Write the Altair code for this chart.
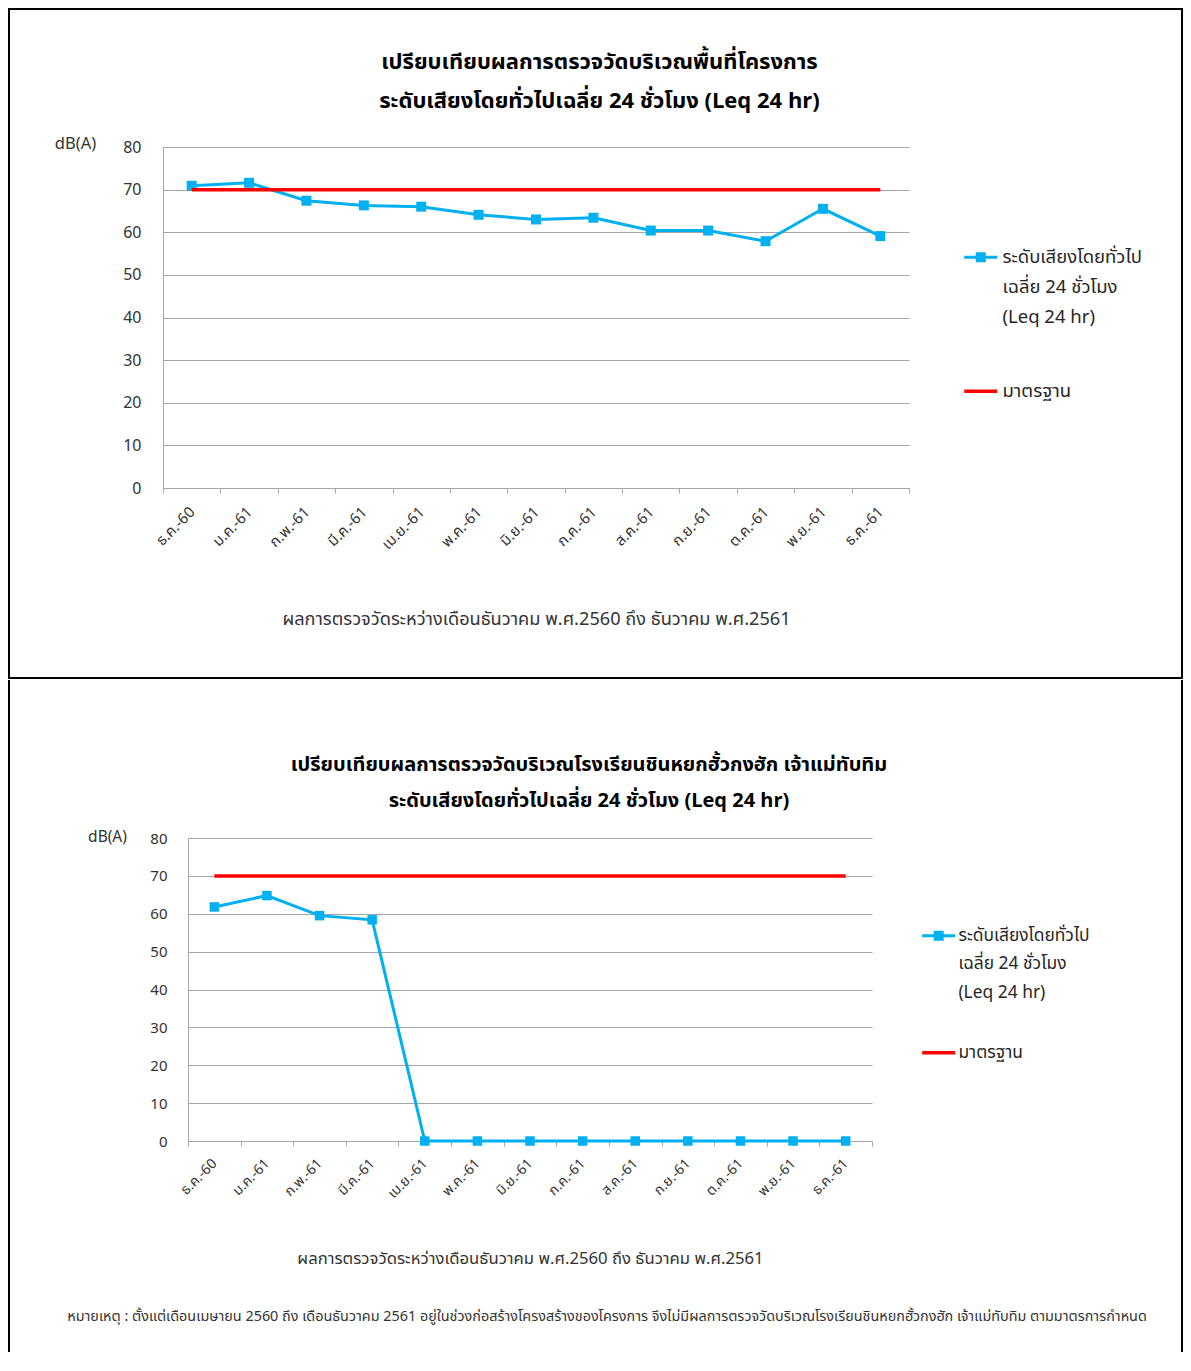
import altair as alt
import pandas as pd

# ---------------- data ----------------
MONTHS = ["ธ.ค.-60", "ม.ค.-61", "ก.พ.-61", "มี.ค.-61", "เม.ย.-61", "พ.ค.-61", "มิ.ย.-61",
          "ก.ค.-61", "ส.ค.-61", "ก.ย.-61", "ต.ค.-61", "พ.ย.-61", "ธ.ค.-61"]
PROJECT_LEQ = [70.9, 71.6, 67.4, 66.3, 66.0, 64.1, 63.0, 63.4, 60.4, 60.4, 57.9, 65.5, 59.1]
SCHOOL_LEQ = [61.8, 64.8, 59.5, 58.4, 0, 0, 0, 0, 0, 0, 0, 0, 0]
STANDARD_LEQ = [70, 70, 70, 70, 70, 70, 70, 70, 70, 70, 70, 70, 70]
Y_TICKS = [0, 10, 20, 30, 40, 50, 60, 70, 80]

LEQ_LEGEND_LINES = ["ระดับเสียงโดยทั่วไป", "เฉลี่ย 24 ชั่วโมง", "(Leq 24 hr)"]
STANDARD_NAME = "มาตรฐาน"
TOP_TITLE = ["เปรียบเทียบผลการตรวจวัดบริเวณพื้นที่โครงการ",
             "ระดับเสียงโดยทั่วไปเฉลี่ย 24 ชั่วโมง (Leq 24 hr)"]
BOTTOM_TITLE = ["เปรียบเทียบผลการตรวจวัดบริเวณโรงเรียนชินหยกฮั้วกงฮัก  เจ้าแม่ทับทิม",
                "ระดับเสียงโดยทั่วไปเฉลี่ย 24 ชั่วโมง (Leq 24 hr)"]
X_TITLE = "ผลการตรวจวัดระหว่างเดือนธันวาคม พ.ศ.2560 ถึง ธันวาคม พ.ศ.2561"
Y_TITLE = "dB(A)"
FOOTNOTE = ("หมายเหตุ :  ตั้งแต่เดือนเมษายน 2560 ถึง เดือนธันวาคม 2561 อยู่ในช่วงก่อสร้างโครงสร้างของโครงการ  "
            "จึงไม่มีผลการตรวจวัดบริเวณโรงเรียนชินหยกฮั้วกงฮัก เจ้าแม่ทับทิม ตามมาตรการกำหนด")

# ---------------- styles ----------------
FONT = "Tahoma, 'Noto Sans Thai', 'Noto Sans', 'DejaVu Sans', sans-serif"
BLUE = "#00B0F0"
RED = "#FF0000"
GRID = "#A6A6A6"
TXT = "#333333"
LEQ_SYMBOL = "M-3.3,-0.3H3.3V0.3H-3.3Z M-1,-1H1V1H-1Z"
STD_SYMBOL = "M-3.3,0H3.3"

# both panels share the same view origin; the lower plot is shifted right via its x range
TOP_GEOM = dict(w=746, x0=0, h=341, title=TOP_TITLE, tsize=22, tpad=17, toff=-105, tdx=4,
                xlab=15, xpad=16, xtitle=18.2, xtitleY=131, ylab=16, ypad=22,
                ytX=-88, ytY=-4, ytsize=16.5,
                msize=100, legX=808.5, legY=101, legRow=11, legLab=18.5, legOff=12.5, redY=235)
BOT_GEOM = dict(w=709, x0=25, h=303, title=BOTTOM_TITLE, tsize=20, tpad=16, toff=-132, tdx=-6.5,
                xlab=14, xpad=15, xtitle=16.7, xtitleY=117, ylab=15, ypad=21,
                ytX=-81, ytY=-2, ytsize=15.5,
                msize=90, legX=767, legY=89, legRow=9.6, legLab=17.4, legOff=11, redY=206)


def panel(values, g, frame_layers, extra_layers=()):
    df = pd.DataFrame({"month": MONTHS, "leq": values, "std": STANDARD_LEQ,
                       "series": LEQ_LEGEND_LINES[0], "std_series": STANDARD_NAME})
    x = alt.X("month:N", sort=MONTHS,
              scale=alt.Scale(type="band", paddingInner=0, paddingOuter=0,
                              range=[g["x0"], g["w"]]),
              axis=alt.Axis(title=X_TITLE, titleY=g["xtitleY"], titleBaseline="middle",
                            titleFontSize=g["xtitle"], titleFontWeight="normal", titleColor=TXT,
                            titleFont=FONT, labelFont=FONT, labelAngle=-45, labelAlign="right",
                            labelBaseline="middle", labelPadding=g["xpad"],
                            labelFontSize=g["xlab"], labelColor=TXT, tickBand="extent",
                            tickSize=5, tickColor=GRID, domainColor=GRID, grid=False))

    def y(field):
        return alt.Y(f"{field}:Q", scale=alt.Scale(domain=[0, 80], nice=False),
                     axis=alt.Axis(title=Y_TITLE, titleAngle=0, titleX=g["ytX"], titleY=g["ytY"],
                                   titleAlign="center", titleBaseline="middle",
                                   titleFontWeight="normal", titleFontSize=g["ytsize"],
                                   titleColor=TXT, titleFont=FONT, labelFont=FONT,
                                   values=Y_TICKS, grid=True, gridColor=GRID, gridWidth=1,
                                   domainColor=GRID, ticks=False, labelPadding=g["ypad"],
                                   labelFontSize=g["ylab"], labelColor=TXT,
                                   offset=-g["x0"]))

    base = alt.Chart(df)
    blue_line = base.mark_line(color=BLUE, strokeWidth=3).encode(x=x, y=y("leq"))
    blue_pts = base.mark_point(shape="square", filled=True, size=g["msize"], opacity=1).encode(
        x=x, y=y("leq"),
        color=alt.Color("series:N",
                        scale=alt.Scale(domain=LEQ_LEGEND_LINES,
                                        range=[BLUE, "transparent", "transparent"]),
                        legend=alt.Legend(orient="none", legendX=g["legX"], legendY=g["legY"],
                                          title=None, symbolType=LEQ_SYMBOL, symbolSize=100,
                                          symbolStrokeWidth=0, labelFont=FONT,
                                          labelFontSize=g["legLab"], labelColor="#262626",
                                          labelOffset=g["legOff"], rowPadding=g["legRow"],
                                          labelLimit=400)))
    red_line = base.mark_line(strokeWidth=3.5).encode(
        x=x, y=y("std"),
        stroke=alt.Stroke("std_series:N",
                          scale=alt.Scale(domain=[STANDARD_NAME], range=[RED]),
                          legend=alt.Legend(orient="none", legendX=g["legX"], legendY=g["redY"],
                                            title=None, symbolType=STD_SYMBOL, symbolSize=100,
                                            symbolStrokeWidth=3.5, labelFont=FONT,
                                            labelFontSize=g["legLab"], labelColor="#262626",
                                            labelOffset=g["legOff"], labelLimit=400)))

    layers = list(frame_layers) + [blue_line, blue_pts, red_line] + list(extra_layers)
    return alt.layer(*layers).properties(
        width=g["w"], height=g["h"],
        title=alt.TitleParams(text=g["title"][0], subtitle=g["title"][1], font=FONT,
                              fontSize=g["tsize"], fontWeight="bold", color="#000000",
                              subtitleFont=FONT, subtitleFontSize=g["tsize"],
                              subtitleFontWeight="bold", subtitleColor="#000000",
                              subtitlePadding=g["tpad"], anchor="middle", frame="bounds",
                              offset=g["toff"], dx=g["tdx"]))


one = pd.DataFrame({"k": [0]})

# top panel frame (full box)
top_frame = alt.Chart(one).mark_rect(fillOpacity=0, stroke="black", strokeWidth=2).encode(
    x=alt.value(-154), x2=alt.value(1019), y=alt.value(-138), y2=alt.value(531))

# bottom panel frame (left and right sides; top side is shared with the panel above)
bot_left = alt.Chart(one).mark_rule(color="black", strokeWidth=2).encode(
    x=alt.value(-154), y=alt.value(-158), y2=alt.value(514))
bot_right = alt.Chart(one).mark_rule(color="black", strokeWidth=2).encode(
    x=alt.value(1019), y=alt.value(-158), y2=alt.value(514))

foot = alt.Chart(pd.DataFrame({"note": [FOOTNOTE]})).mark_text(
    font=FONT, fontSize=14.4, color="#333333", align="center", baseline="middle").encode(
    x=alt.value(444), y=alt.value(479), text="note:N")

top = panel(PROJECT_LEQ, TOP_GEOM, [top_frame])
bottom = panel(SCHOOL_LEQ, BOT_GEOM, [bot_left, bot_right], [foot])

chart = (
    alt.vconcat(top, bottom, spacing=0)
    .resolve_scale(color="independent", stroke="independent")
    .resolve_legend(color="independent", stroke="independent")
    .properties(padding=0)
    .configure_view(stroke=None)
)

chart.save("out.html", embed_options={"renderer": "svg", "actions": False})
